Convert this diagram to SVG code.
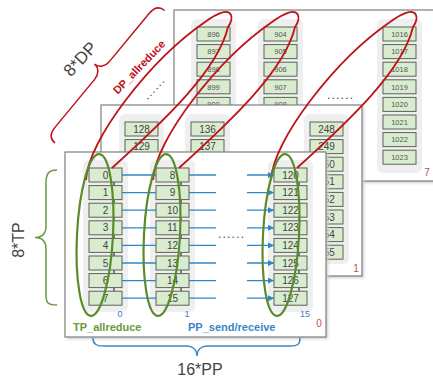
<svg xmlns="http://www.w3.org/2000/svg" width="433" height="381" viewBox="0 0 433 381">
<style>
.panel{fill:#fff;stroke:#7f7f7f;stroke-width:1.2}
.colbg{fill:#efefef}
.bx rect{fill:#d9ecd0;stroke:#5b6356;stroke-width:1}
.bx text{font-family:"Liberation Sans",Arial,sans-serif;font-size:10px;fill:#444;text-anchor:middle}
.back .bx text{font-size:7.5px;fill:#555}
.cn{stroke:#555;stroke-width:1.5}
.arr{stroke:#2e86c8;stroke-width:1.3;fill:none;marker-end:url(#ah)}
.red{fill:none;stroke:#c0121a;stroke-width:1.8}
.grn{fill:none;stroke:#5b8c2a;stroke-width:2.2}
.lbl{font-family:"Liberation Sans",Arial,sans-serif}
.dots{font-family:"Liberation Sans",Arial,sans-serif;font-size:12px;fill:#444;letter-spacing:1.2px}
.pn{font-family:"Liberation Sans",Arial,sans-serif;font-size:10px;fill:#c0504d;text-anchor:middle}
.cl{font-family:"Liberation Sans",Arial,sans-serif;font-size:9px;fill:#4a7ab8;text-anchor:middle}
.shd{fill:#cfcfcf}
</style>
<defs>
<marker id="ah" viewBox="0 0 8 8" refX="8" refY="4" markerWidth="6" markerHeight="6" markerUnits="userSpaceOnUse" orient="auto"><path d="M0,0 L8,4 L0,8 z" fill="#2e86c8"/></marker>
<filter id="sh" x="-5%" y="-5%" width="115%" height="115%"><feGaussianBlur stdDeviation="1.5"/></filter>
</defs>
<rect width="433" height="381" fill="#fff"/>

<!-- Back panel 7 -->
<g id="panel7" class="back">
<rect class="shd" x="176" y="12" width="262" height="171" filter="url(#sh)"/>
<rect class="panel" x="174" y="10" width="262" height="171"/>
<g id="col896" transform="translate(197,27)">
<rect class="colbg" x="-6" y="-8" width="45" height="160" rx="6"/>
<g id="n896" class="bx"><rect x="0" y="0" width="33" height="14"/><text x="16.5" y="9.7">896</text></g>
<g id="n897" class="bx"><rect x="0" y="17.6" width="33" height="14"/><text x="16.5" y="27.3">897</text></g>
<g id="n898" class="bx"><rect x="0" y="35.2" width="33" height="14"/><text x="16.5" y="44.9">898</text></g>
<g id="n899" class="bx"><rect x="0" y="52.8" width="33" height="14"/><text x="16.5" y="62.5">899</text></g>
<g id="n900" class="bx"><rect x="0" y="70.4" width="33" height="14"/><text x="16.5" y="80.1">900</text></g>
</g>
<g id="col904" transform="translate(264,27)">
<rect class="colbg" x="-6" y="-8" width="45" height="160" rx="6"/>
<g id="n904" class="bx"><rect x="0" y="0" width="33" height="14"/><text x="16.5" y="9.7">904</text></g>
<g id="n905" class="bx"><rect x="0" y="17.6" width="33" height="14"/><text x="16.5" y="27.3">905</text></g>
<g id="n906" class="bx"><rect x="0" y="35.2" width="33" height="14"/><text x="16.5" y="44.9">906</text></g>
<g id="n907" class="bx"><rect x="0" y="52.8" width="33" height="14"/><text x="16.5" y="62.5">907</text></g>
<g id="n908" class="bx"><rect x="0" y="70.4" width="33" height="14"/><text x="16.5" y="80.1">908</text></g>
</g>
<g id="col1016" transform="translate(383,27)">
<rect class="colbg" x="-6" y="-8" width="45" height="154" rx="6"/>
<g id="n1016" class="bx"><rect x="0" y="0" width="33" height="14"/><text x="16.5" y="9.7">1016</text></g>
<g id="n1017" class="bx"><rect x="0" y="17.6" width="33" height="14"/><text x="16.5" y="27.3">1017</text></g>
<g id="n1018" class="bx"><rect x="0" y="35.2" width="33" height="14"/><text x="16.5" y="44.9">1018</text></g>
<g id="n1019" class="bx"><rect x="0" y="52.8" width="33" height="14"/><text x="16.5" y="62.5">1019</text></g>
<g id="n1020" class="bx"><rect x="0" y="70.4" width="33" height="14"/><text x="16.5" y="80.1">1020</text></g>
<g id="n1021" class="bx"><rect x="0" y="88" width="33" height="14"/><text x="16.5" y="97.7">1021</text></g>
<g id="n1022" class="bx"><rect x="0" y="105.6" width="33" height="14"/><text x="16.5" y="115.3">1022</text></g>
<g id="n1023" class="bx"><rect x="0" y="123.2" width="33" height="14"/><text x="16.5" y="132.9">1023</text></g>
</g>
<text class="dots" x="327" y="99">......</text>
<text class="pn" x="427" y="176">7</text>
</g>

<!-- Middle panel 1 -->
<g id="panel1">
<rect class="shd" x="103" y="107" width="261" height="171" filter="url(#sh)"/>
<rect class="panel" x="101" y="105" width="261" height="171"/>
<g id="col128" transform="translate(125,122)">
<rect class="colbg" x="-6" y="-8" width="45" height="160" rx="6"/>
<g id="n128" class="bx"><rect x="0" y="0" width="33" height="14"/><text x="16.5" y="10.5">128</text></g>
<g id="n129" class="bx"><rect x="0" y="17.6" width="33" height="14"/><text x="16.5" y="28.1">129</text></g>
</g>
<g id="col136" transform="translate(191,122)">
<rect class="colbg" x="-6" y="-8" width="45" height="160" rx="6"/>
<g id="n136" class="bx"><rect x="0" y="0" width="33" height="14"/><text x="16.5" y="10.5">136</text></g>
<g id="n137" class="bx"><rect x="0" y="17.6" width="33" height="14"/><text x="16.5" y="28.1">137</text></g>
</g>
<g id="col248" transform="translate(310,122)">
<rect class="colbg" x="-6" y="-8" width="45" height="150" rx="6"/>
<g id="n248" class="bx"><rect x="0" y="0" width="33" height="14"/><text x="16.5" y="10.5">248</text></g>
<g id="n249" class="bx"><rect x="0" y="17.6" width="33" height="14"/><text x="16.5" y="28.1">249</text></g>
<g id="n250" class="bx"><rect x="0" y="35.2" width="33" height="14"/><text x="16.5" y="45.7">250</text></g>
<g id="n251" class="bx"><rect x="0" y="52.8" width="33" height="14"/><text x="16.5" y="63.3">251</text></g>
<g id="n252" class="bx"><rect x="0" y="70.4" width="33" height="14"/><text x="16.5" y="80.9">252</text></g>
<g id="n253" class="bx"><rect x="0" y="88" width="33" height="14"/><text x="16.5" y="98.5">253</text></g>
<g id="n254" class="bx"><rect x="0" y="105.6" width="33" height="14"/><text x="16.5" y="116.1">254</text></g>
<g id="n255" class="bx"><rect x="0" y="123.2" width="33" height="14"/><text x="16.5" y="133.7">255</text></g>
</g>
<text class="pn" x="356" y="272">1</text>
</g>

<!-- Front panel 0 -->
<g id="panel0">
<rect class="shd" x="67" y="154" width="261" height="185" filter="url(#sh)"/>
<rect class="panel" x="65" y="152" width="261" height="185"/>
<g id="col0" transform="translate(89,168)">
<rect class="colbg" x="-6" y="-8" width="45" height="152" rx="6"/>
<line class="cn" x1="25" y1="14" x2="25" y2="17.6"/><line class="cn" x1="25" y1="31.6" x2="25" y2="35.2"/><line class="cn" x1="25" y1="49.2" x2="25" y2="52.8"/><line class="cn" x1="25" y1="66.8" x2="25" y2="70.4"/><line class="cn" x1="25" y1="84.4" x2="25" y2="88"/><line class="cn" x1="25" y1="102" x2="25" y2="105.6"/><line class="cn" x1="25" y1="119.6" x2="25" y2="123.2"/>
<g id="n0" class="bx"><rect x="0" y="0" width="33" height="14"/><text x="16.5" y="10.5">0</text></g>
<g id="n1" class="bx"><rect x="0" y="17.6" width="33" height="14"/><text x="16.5" y="28.1">1</text></g>
<g id="n2" class="bx"><rect x="0" y="35.2" width="33" height="14"/><text x="16.5" y="45.7">2</text></g>
<g id="n3" class="bx"><rect x="0" y="52.8" width="33" height="14"/><text x="16.5" y="63.3">3</text></g>
<g id="n4" class="bx"><rect x="0" y="70.4" width="33" height="14"/><text x="16.5" y="80.9">4</text></g>
<g id="n5" class="bx"><rect x="0" y="88" width="33" height="14"/><text x="16.5" y="98.5">5</text></g>
<g id="n6" class="bx"><rect x="0" y="105.6" width="33" height="14"/><text x="16.5" y="116.1">6</text></g>
<g id="n7" class="bx"><rect x="0" y="123.2" width="33" height="14"/><text x="16.5" y="133.7">7</text></g>
<text class="cl" x="31" y="149">0</text>
</g>
<g id="col8" transform="translate(156,168)">
<rect class="colbg" x="-6" y="-8" width="45" height="152" rx="6"/>
<line class="cn" x1="25" y1="14" x2="25" y2="17.6"/><line class="cn" x1="25" y1="31.6" x2="25" y2="35.2"/><line class="cn" x1="25" y1="49.2" x2="25" y2="52.8"/><line class="cn" x1="25" y1="66.8" x2="25" y2="70.4"/><line class="cn" x1="25" y1="84.4" x2="25" y2="88"/><line class="cn" x1="25" y1="102" x2="25" y2="105.6"/><line class="cn" x1="25" y1="119.6" x2="25" y2="123.2"/>
<g id="n8" class="bx"><rect x="0" y="0" width="33" height="14"/><text x="16.5" y="10.5">8</text></g>
<g id="n9" class="bx"><rect x="0" y="17.6" width="33" height="14"/><text x="16.5" y="28.1">9</text></g>
<g id="n10" class="bx"><rect x="0" y="35.2" width="33" height="14"/><text x="16.5" y="45.7">10</text></g>
<g id="n11" class="bx"><rect x="0" y="52.8" width="33" height="14"/><text x="16.5" y="63.3">11</text></g>
<g id="n12" class="bx"><rect x="0" y="70.4" width="33" height="14"/><text x="16.5" y="80.9">12</text></g>
<g id="n13" class="bx"><rect x="0" y="88" width="33" height="14"/><text x="16.5" y="98.5">13</text></g>
<g id="n14" class="bx"><rect x="0" y="105.6" width="33" height="14"/><text x="16.5" y="116.1">14</text></g>
<g id="n15" class="bx"><rect x="0" y="123.2" width="33" height="14"/><text x="16.5" y="133.7">15</text></g>
<text class="cl" x="31" y="149">1</text>
</g>
<g id="col120" transform="translate(274,168)">
<rect class="colbg" x="-6" y="-8" width="45" height="152" rx="6"/>
<line class="cn" x1="25" y1="14" x2="25" y2="17.6"/><line class="cn" x1="25" y1="31.6" x2="25" y2="35.2"/><line class="cn" x1="25" y1="49.2" x2="25" y2="52.8"/><line class="cn" x1="25" y1="66.8" x2="25" y2="70.4"/><line class="cn" x1="25" y1="84.4" x2="25" y2="88"/><line class="cn" x1="25" y1="102" x2="25" y2="105.6"/><line class="cn" x1="25" y1="119.6" x2="25" y2="123.2"/>
<g id="n120" class="bx"><rect x="0" y="0" width="33" height="14"/><text x="16.5" y="10.5">120</text></g>
<g id="n121" class="bx"><rect x="0" y="17.6" width="33" height="14"/><text x="16.5" y="28.1">121</text></g>
<g id="n122" class="bx"><rect x="0" y="35.2" width="33" height="14"/><text x="16.5" y="45.7">122</text></g>
<g id="n123" class="bx"><rect x="0" y="52.8" width="33" height="14"/><text x="16.5" y="63.3">123</text></g>
<g id="n124" class="bx"><rect x="0" y="70.4" width="33" height="14"/><text x="16.5" y="80.9">124</text></g>
<g id="n125" class="bx"><rect x="0" y="88" width="33" height="14"/><text x="16.5" y="98.5">125</text></g>
<g id="n126" class="bx"><rect x="0" y="105.6" width="33" height="14"/><text x="16.5" y="116.1">126</text></g>
<g id="n127" class="bx"><rect x="0" y="123.2" width="33" height="14"/><text x="16.5" y="133.7">127</text></g>
<text class="cl" x="31" y="149">15</text>
</g>
<text class="dots" x="218" y="238">......</text>
<text class="pn" x="319" y="327">0</text>
<text class="lbl" x="73" y="331" font-size="11" font-weight="bold" fill="#6a9a3a">TP_allreduce</text>
<text class="lbl" x="188" y="331" font-size="11" font-weight="bold" fill="#3a86c8">PP_send/receive</text>
</g>

<!-- Connectors -->
<g id="connectors">
<g id="pp-arrows">
<path class="arr" d="M122,175 H156 M189,175 H216 M247,175 H274"/>
<path class="arr" d="M122,192.6 H156 M189,192.6 H216 M247,192.6 H274"/>
<path class="arr" d="M122,210.2 H156 M189,210.2 H216 M247,210.2 H274"/>
<path class="arr" d="M122,227.8 H156 M189,227.8 H216 M247,227.8 H274"/>
<path class="arr" d="M122,245.4 H156 M189,245.4 H216 M247,245.4 H274"/>
<path class="arr" d="M122,263 H156 M189,263 H216 M247,263 H274"/>
<path class="arr" d="M122,280.6 H156 M189,280.6 H216 M247,280.6 H274"/>
<path class="arr" d="M122,298.2 H156 M189,298.2 H216 M247,298.2 H274"/>
</g>
<g id="dp-loops">
<path id="dploop" class="red" d="M86,180 C88,140 150,60 205,22 C216,14 228,8 231,15 C233,20 230,24 228,27 C218,70 165,120 112,168"/>
<use href="#dploop" transform="translate(67,0)"/>
<use href="#dploop" transform="translate(185,0)"/>
</g>
<g id="tp-loops">
<ellipse id="tploop" class="grn" cx="95" cy="235" rx="18" ry="81" transform="rotate(3 95 235)"/>
<use href="#tploop" transform="translate(67,0)"/>
<use href="#tploop" transform="translate(186,0)"/>
</g>
</g>

<!-- Braces and dimension labels -->
<g id="tp-brace">
<path d="M57,170 C48,170 46,174 46,184 L46,226 C46,234 42,237.5 35,237.5 C42,237.5 46,241 46,249 L46,295 C46,303 48,305 57,305" fill="none" stroke="#6a9a3a" stroke-width="1.5"/>
<text class="lbl" transform="translate(24,240) rotate(-90)" text-anchor="middle" font-size="16" fill="#444">8*TP</text>
</g>
<g id="pp-brace">
<path d="M93,338 C93,344 96,346 104,346 L186,346 C193,346 197,350 197,356 C197,350 201,346 208,346 L290,346 C298,346 300,344 300,338" fill="none" stroke="#3a86c8" stroke-width="1.5"/>
<text class="lbl" x="200" y="375" text-anchor="middle" font-size="16" fill="#444">16*PP</text>
</g>
<g id="dp-brace">
<path transform="translate(55,143) rotate(-50.4)" d="M0,0 C0,-7 4,-10 12,-10 L74,-10 C81,-10 86,-14 86,-20 C86,-14 91,-10 98,-10 L160,-10 C168,-10 172,-7 172,0" fill="none" stroke="#c0121a" stroke-width="1.5"/>
<text class="lbl" transform="translate(80,59) rotate(-47)" y="6" text-anchor="middle" font-size="17" fill="#444">8*DP</text>
<text class="lbl" transform="translate(139,67) rotate(-46)" y="4" text-anchor="middle" font-size="11" font-weight="bold" fill="#c0121a">DP_allreduce</text>
<text class="dots" transform="translate(155,89) rotate(-47)" y="2" text-anchor="middle">......</text>
</g>
</svg>
